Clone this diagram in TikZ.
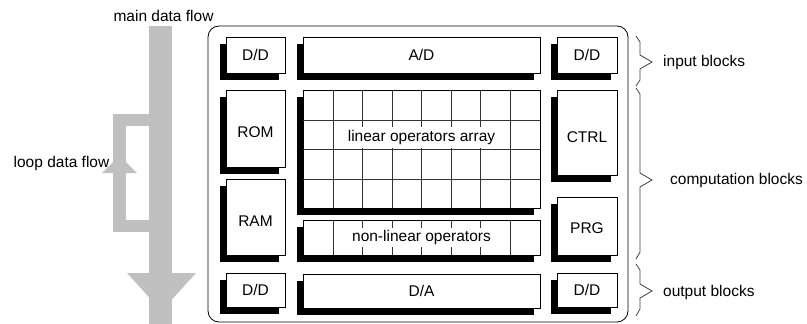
\documentclass[tikz,border=0pt]{standalone}
\usepackage{fontspec}
\setmainfont{Liberation Sans}
\usetikzlibrary{shadows}
\definecolor{flowgray}{RGB}{192,192,192}
\begin{document}
\begin{tikzpicture}[x=1pt,y=-1pt,
  font=\fontsize{15.5}{18}\selectfont,
  blk/.style={draw, fill=white, line width=0.8pt, inner sep=0pt,
    drop shadow={shadow xshift=-6.5pt, shadow yshift=-6.5pt, opacity=1, fill=black}},
  gridline/.style={draw=black!80, line width=0.8pt},
  cover/.style={fill=white, inner sep=0pt},
  bracepath/.style={draw=black!75, line width=0.8pt},
  flow/.style={fill=flowgray, draw=none},
  lbl/.style={inner sep=0pt}]
\useasboundingbox (0,0) rectangle (807,324);

% flows
\fill[flow] (149,26) rectangle (172,324);
\fill[flow] (127,273) -- (196,273) -- (161.5,311) -- cycle;
\fill[flow] (113,114) rectangle (149,126);
\fill[flow] (113,114) rectangle (126,232);
\fill[flow] (113,220) rectangle (149,232);
\fill[flow] (102,173) -- (137,173) -- (119.5,155.5) -- cycle;
\node[lbl] (mainlbl) at (163.5,16) {main data flow};
\node[lbl] (looplbl) at (61.5,163) {loop data flow};

% frame
\node[draw, line width=0.8pt, rounded corners=11pt, minimum width=420pt, minimum height=296pt, inner sep=0pt] (frame) at (418,174) {};

% blocks
\node[blk, minimum width=59pt, minimum height=36pt] (ddi1) at (255.5,55) {D/D};
\node[blk, minimum width=237pt, minimum height=36pt] (ad) at (421.5,55) {A/D};
\node[blk, minimum width=60pt, minimum height=36pt] (ddi2) at (587,55) {D/D};
\node[blk, minimum width=59pt, minimum height=77pt] (rom) at (255.5,128.5) {};
\node[lbl] (romt) at (255.5,132) {ROM};
\node[blk, minimum width=59pt, minimum height=76pt] (ram) at (255.5,217) {};
\node[lbl] (ramt) at (255.5,221) {RAM};
\node[blk, minimum width=237pt, minimum height=118pt] (arr) at (421.5,149) {};
\node[blk, minimum width=237pt, minimum height=35pt] (nl) at (421.5,237.5) {};
\node[blk, minimum width=60pt, minimum height=85pt] (ctrl) at (587,132.5) {};
\node[lbl] (ctrlt) at (587,137) {CTRL};
\node[blk, minimum width=60pt, minimum height=58pt] (prg) at (587,226) {};
\node[lbl] (prgt) at (587,228) {PRG};
\node[blk, minimum width=59pt, minimum height=34pt] (ddo1) at (255.5,290) {D/D};
\node[blk, minimum width=237pt, minimum height=34pt] (da) at (421.5,291) {D/A};
\node[blk, minimum width=60pt, minimum height=34pt] (ddo2) at (587,290) {D/D};

% grids
\foreach \x in {333,362,392,421,451,480,510} {
  \draw[gridline] (\x,90) -- (\x,208);
  \draw[gridline] (\x,220) -- (\x,255);
}
\foreach \y in {120,149,179} \draw[gridline] (303,\y) -- (540,\y);
\node[cover, minimum width=174pt, minimum height=21pt] (lint) at (421.5,137.5) {linear operators array};
\node[cover, minimum width=174pt, minimum height=19pt] (nlt) at (421.5,237.5) {non-linear operators};

% braces
\draw[bracepath] (636,36) -- (640,42) -- (640,55) -- (652,62) -- (640,69) -- (640,80) -- (636,86);
\draw[bracepath] (636,88) -- (640,94) -- (640,173) -- (652,180) -- (640,187) -- (640,252) -- (636,259);
\draw[bracepath] (636,264) -- (640,270) -- (640,284) -- (652,291) -- (640,298) -- (640,309) -- (636,316);
\node[lbl, anchor=west] (inl) at (663,62) {input blocks};
\node[lbl, anchor=west] (coml) at (670,180) {computation blocks};
\node[lbl, anchor=west] (outl) at (663,292) {output blocks};
\end{tikzpicture}
\end{document}
